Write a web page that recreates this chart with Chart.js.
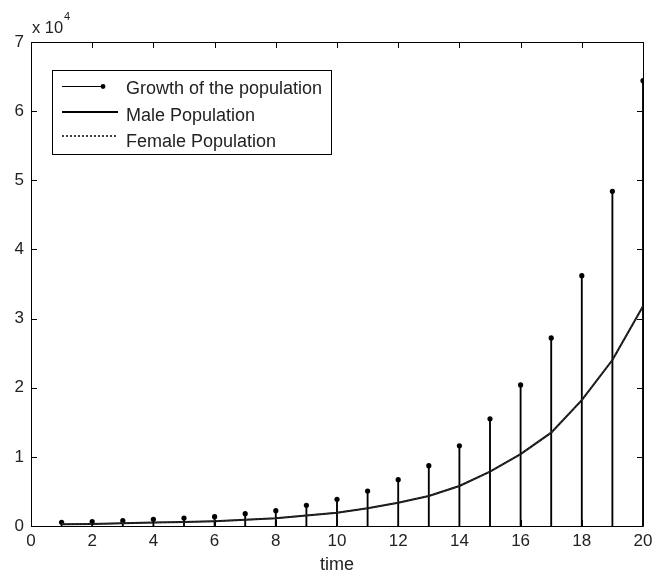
<!DOCTYPE html>
<html>
<head>
<meta charset="utf-8">
<script src="https://cdn.jsdelivr.net/npm/chart.js@4.4.1/dist/chart.umd.min.js"></script>
<style>
  html, body { margin: 0; padding: 0; background: #fff; }
  #wrap { position: relative; width: 653px; height: 573px; }
  #chart { position: absolute; left: 0; top: 0; }
  #overlay { position: absolute; left: 0; top: 0; pointer-events: none; }
  #overlay text { font-family: Arial, "Liberation Sans", sans-serif; fill: #222; }
</style>
</head>
<body>
<div id="wrap">
  <canvas id="chart" width="653" height="573"></canvas>
  <svg id="overlay" width="653" height="573">
    <text x="32" y="33" font-size="16.5">x 10</text>
    <text x="64" y="20" font-size="11">4</text>
    <g id="legend">
      <rect x="52.5" y="70.5" width="279" height="84" fill="#fff" stroke="#000" stroke-width="1"/>
      <line x1="62" y1="86.5" x2="104" y2="86.5" stroke="#000" stroke-width="1"/>
      <circle cx="103" cy="86.5" r="2.4" fill="#000"/>
      <line x1="62" y1="112" x2="118" y2="112" stroke="#000" stroke-width="2.2"/>
      <line x1="62" y1="136" x2="118" y2="136" stroke="#000" stroke-width="1.3" stroke-dasharray="2,2"/>
      <text x="126" y="94" font-size="18">Growth of the population</text>
      <text x="126" y="120.5" font-size="18">Male Population</text>
      <text x="126" y="147" font-size="18">Female Population</text>
    </g>
  </svg>
</div>
<script>
const times = [1, 2, 3, 4, 5, 6, 7, 8, 9, 10, 11, 12, 13, 14, 15, 16, 17, 18, 19, 20];
const growth = [540, 620, 770, 970, 1160, 1350, 1780, 2220, 3000, 3860,
                5060, 6700, 8730, 11600, 15500, 20400, 27200, 36200, 48400, 64400];
const male = [260, 300, 400, 490, 590, 700, 900, 1110, 1520, 1930,
              2560, 3370, 4340, 5790, 7860, 10400, 13500, 18200, 24000, 31800];
const female = [260, 300, 400, 490, 590, 700, 900, 1110, 1520, 1930,
                2560, 3370, 4340, 5790, 7860, 10400, 13500, 18200, 24000, 31800];
const xTicks = [0, 2, 4, 6, 8, 10, 12, 14, 16, 18, 20];
const yTicks = [0, 10000, 20000, 30000, 40000, 50000, 60000, 70000];

const pts = (arr) => arr.map((v, i) => ({ x: times[i], y: v }));

// matlab style box with inward ticks on all four sides
const frame = {
  id: "frame",
  afterDatasetsDraw(chart) {
    const { ctx, chartArea: a, scales } = chart;
    ctx.save();
    ctx.strokeStyle = "#000";
    ctx.lineWidth = 1;
    ctx.beginPath();
    ctx.rect(Math.round(a.left) + 0.5, Math.round(a.top) + 0.5,
      Math.round(a.right - a.left), Math.round(a.bottom - a.top));
    xTicks.forEach((t) => {
      const px = Math.round(scales.x.getPixelForValue(t)) + 0.5;
      ctx.moveTo(px, a.bottom); ctx.lineTo(px, a.bottom - 6);
      ctx.moveTo(px, a.top); ctx.lineTo(px, a.top + 6);
    });
    yTicks.forEach((t) => {
      const py = Math.round(scales.y.getPixelForValue(t)) + 0.5;
      ctx.moveTo(a.left, py); ctx.lineTo(a.left + 6, py);
      ctx.moveTo(a.right, py); ctx.lineTo(a.right - 6, py);
    });
    ctx.stroke();
    ctx.restore();
  },
};

const font = { family: "Arial, 'Liberation Sans', sans-serif", size: 17 };

new Chart(document.getElementById("chart"), {
  type: "bar",
  data: {
    datasets: [
      {
        type: "line",
        label: "Female Population",
        data: pts(female),
        borderColor: "#333",
        borderWidth: 1.3,
        borderDash: [2, 2],
        pointRadius: 0,
        tension: 0,
        order: 1,
      },
      {
        type: "line",
        label: "Male Population",
        data: pts(male),
        borderColor: "#111",
        borderWidth: 2,
        pointRadius: 0,
        tension: 0,
        order: 2,
      },
      {
        type: "line",
        label: "Growth of the population",
        data: pts(growth),
        showLine: false,
        pointRadius: 2.6,
        pointBackgroundColor: "#000",
        pointBorderWidth: 0,
        order: 3,
      },
      {
        type: "bar",
        label: "stems",
        data: pts(growth),
        backgroundColor: "#000",
        barThickness: 1.2,
        borderWidth: 0,
        grouped: false,
        order: 4,
      },
    ],
  },
  options: {
    responsive: false,
    animation: false,
    layout: { padding: { top: 42, right: 10, left: 0, bottom: 0 } },
    plugins: { legend: { display: false }, tooltip: { enabled: false } },
    scales: {
      x: {
        type: "linear",
        min: 0,
        max: 20,
        offset: false,
        grid: { display: false, drawTicks: false },
        border: { display: false },
        afterBuildTicks: (s) => { s.ticks = xTicks.map((v) => ({ value: v })); },
        afterFit: (s) => { s.height = 47; s.paddingRight = 0; s.paddingLeft = 0; },
        ticks: { font, color: "#222", padding: 5, maxRotation: 0 },
        title: {
          display: true,
          text: "time",
          font: { ...font, size: 18, lineHeight: 1 },
          color: "#222",
          padding: { top: 0, bottom: -1 },
        },
      },
      y: {
        min: 0,
        max: 70000,
        grid: { display: false, drawTicks: false },
        border: { display: false },
        afterBuildTicks: (s) => { s.ticks = yTicks.map((v) => ({ value: v })); },
        afterFit: (s) => { s.width = 31; },
        ticks: { font, color: "#222", padding: 7, callback: (v) => v / 10000 },
      },
    },
  },
  plugins: [frame],
});
</script>
</body>
</html>
